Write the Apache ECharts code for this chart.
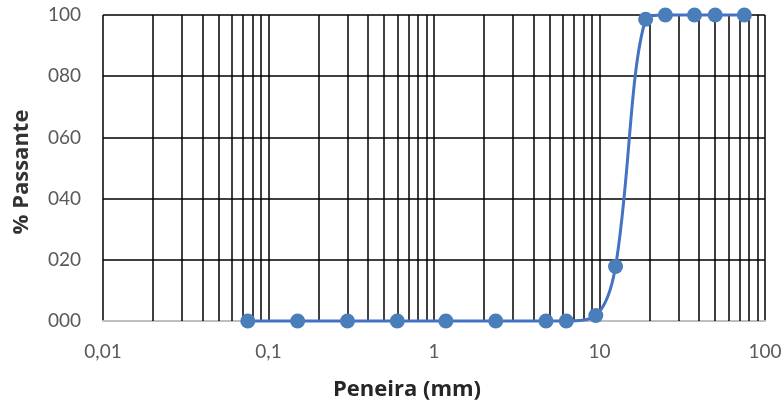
<!DOCTYPE html>
<html>
<head>
<meta charset="utf-8">
<script src="https://cdn.jsdelivr.net/npm/echarts@6/dist/echarts.min.js"></script>
<style>html,body{margin:0;padding:0;background:#fff;}#c{width:783px;height:407px;}</style>
</head>
<body>
<div id="c"></div>
<script>
var sieveSizes = [0.075, 0.15, 0.3, 0.6, 1.18, 2.36, 4.75, 6.3, 9.5, 12.5, 19, 25, 37.5, 50, 75];
var passing = [0, 0, 0, 0, 0, 0, 0, 0, 1.8, 17.8, 98.6, 100, 100, 100, 100];
var yTicks = [0, 20, 40, 60, 80, 100];
var decades = [0.01, 0.1, 1, 10];
var minorGrid = [];
decades.forEach(function (d) { for (var k = 2; k <= 9; k++) minorGrid.push(+(d * k).toPrecision(3)); });

var font = 'Lato, "Open Sans", sans-serif';
var nameFont = '"Open Sans", Lato, sans-serif';
var chart = echarts.init(document.getElementById('c'));
chart.setOption({
  animation: false,
  grid: { left: 103, right: 18, top: 15, bottom: 86, containLabel: false, outerBoundsMode: 'none' },
  xAxis: {
    type: 'log', logBase: 10, min: 0.01, max: 100,
    name: 'Peneira (mm)', nameLocation: 'middle', nameGap: 58,
    nameTextStyle: { fontFamily: nameFont, fontWeight: 'bold', fontSize: 22, color: '#262626', padding: [0, 54, 0, 0] },
    axisLine: { show: true, lineStyle: { color: '#bfbfbf', width: 2 } },
    axisTick: { show: false },
    axisLabel: { fontFamily: font, fontSize: 19, color: '#595959', margin: 21,
      formatter: function (v) { return String(v).replace('.', ','); } },
    splitLine: { show: true, lineStyle: { color: '#000', width: 1.5 } }
  },
  yAxis: {
    type: 'value', min: 0, max: 100, interval: 20,
    name: '% Passante', nameLocation: 'middle', nameGap: 70,
    nameTextStyle: { fontFamily: nameFont, fontWeight: 'bold', fontSize: 22, color: '#333', padding: [0, 8, 0, 0] },
    axisLine: { show: false }, axisTick: { show: false },
    axisLabel: { fontFamily: font, fontSize: 19, color: '#595959', margin: 22,
      formatter: function (v) { return String(v).padStart(3, '0'); } },
    splitLine: { show: true, lineStyle: { color: '#000', width: 1.5 } }
  },
  series: [{
    type: 'line',
    data: sieveSizes.map(function (s, i) { return [s, passing[i]]; }),
    smooth: 0.35,
    symbol: 'circle', symbolSize: 15,
    lineStyle: { color: '#4472C4', width: 3 },
    itemStyle: { color: '#4A7EBB' },
    clip: false,
    z: 5,
    markLine: {
      silent: true, symbol: 'none', label: { show: false },
      lineStyle: { color: '#000', width: 1.5, type: 'solid' },
      data: minorGrid.map(function (v) { return { xAxis: v }; }),
      z: 1
    }
  }]
});
</script>
</body>
</html>
